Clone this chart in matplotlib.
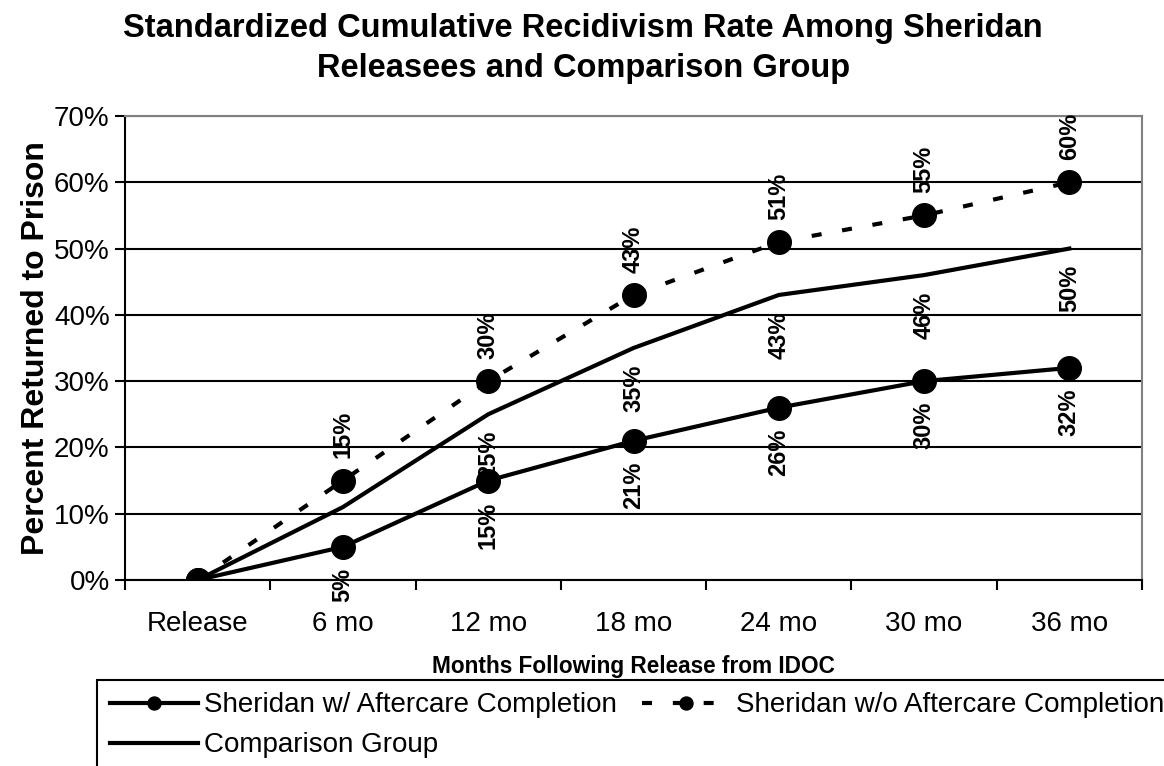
import matplotlib
matplotlib.use("Agg")
import matplotlib.pyplot as plt

plt.rcParams['font.family'] = ['Liberation Sans', 'DejaVu Sans']

# data
months = ['Release', '6 mo', '12 mo', '18 mo', '24 mo', '30 mo', '36 mo']
with_aftercare = [0, 5, 15, 21, 26, 30, 32]
without_aftercare = [0, 15, 30, 43, 51, 55, 60]
comparison = [0, 11, 25, 35, 43, 46, 50]
y_ticks = [0, 10, 20, 30, 40, 50, 60, 70]

fig = plt.figure(figsize=(11.64, 7.66), dpi=100)
ax = fig.add_axes([125/1164, 1-580/766, (1142-125)/1164, (580-116)/766])

x = list(range(len(months)))

l1, = ax.plot(x, with_aftercare, color='black', lw=3, marker='o', ms=17,
              label='Sheridan w/ Aftercare Completion', zorder=4)
l3, = ax.plot(x, comparison, color='black', lw=3,
              label='Comparison Group', zorder=3)
l2, = ax.plot(x, without_aftercare, color='black', lw=3, marker='o', ms=17,
              linestyle=(0, (2.4, 5)), label='Sheridan w/o Aftercare Completion', zorder=4)

# data labels (rotated, like the excel original)
for i in range(1, len(months)):
    ax.annotate(f'{with_aftercare[i]}%', (x[i], with_aftercare[i]), xytext=(0, -15),
                textcoords='offset points', rotation=90, ha='center', va='top',
                fontsize=17, fontweight='bold', zorder=3.5)
    ax.annotate(f'{without_aftercare[i]}%', (x[i], without_aftercare[i]), xytext=(0, 16),
                textcoords='offset points', rotation=90, ha='center', va='bottom',
                fontsize=17, fontweight='bold', zorder=5)
    if i > 1:
        ax.annotate(f'{comparison[i]}%', (x[i], comparison[i]), xytext=(0, -12),
                    textcoords='offset points', rotation=90, ha='center', va='top',
                    fontsize=17, fontweight='bold', zorder=3.5)

ax.set_xlim(-0.5, len(months) - 0.5)
ax.set_ylim(0, 70)
ax.set_yticks(y_ticks)
ax.set_yticklabels([f'{v}%' for v in y_ticks], fontsize=20)
ax.set_xticks(x)
ax.set_xticklabels(months, fontsize=20)
ax.set_xticks([i - 0.5 for i in range(len(months) + 1)], minor=True)
ax.tick_params(axis='x', which='major', length=0, pad=22)
ax.tick_params(axis='x', which='minor', length=7, width=1.5, direction='out')
ax.tick_params(axis='y', length=7, width=1.5, direction='out', pad=4)
ax.yaxis.grid(True, color='black', lw=1.5)
ax.set_axisbelow(True)

for s in ['left', 'bottom']:
    ax.spines[s].set_color('black')
    ax.spines[s].set_linewidth(1.5)
for s in ['top', 'right']:
    ax.spines[s].set_color('#808080')
    ax.spines[s].set_linewidth(1.5)

ax.set_ylabel('Percent Returned to Prison', fontsize=23, fontweight='bold', labelpad=2)
ax.set_xlabel('Months Following Release from IDOC', fontsize=16.3, fontweight='bold', labelpad=13)

fig.text(0.501, 1-29/766, 'Standardized Cumulative Recidivism Rate Among Sheridan',
         ha='center', va='center', fontsize=23.5, fontweight='bold')
fig.text(0.501, 1-69/766, 'Releasees and Comparison Group',
         ha='center', va='center', fontsize=23.5, fontweight='bold')

leg = fig.legend(handles=[l1, l3, l2], loc='upper left', ncol=2,
                 bbox_to_anchor=(97/1164, 1-680/766), borderaxespad=0, fontsize=20,
                 handlelength=3.2, markerscale=0.55, columnspacing=0.9,
                 labelspacing=0.5, handletextpad=0.2, borderpad=0.45,
                 fancybox=False, framealpha=1)
leg.get_frame().set_edgecolor('black')
leg.get_frame().set_linewidth(1.5)

fig.savefig('out.png', dpi=100)
